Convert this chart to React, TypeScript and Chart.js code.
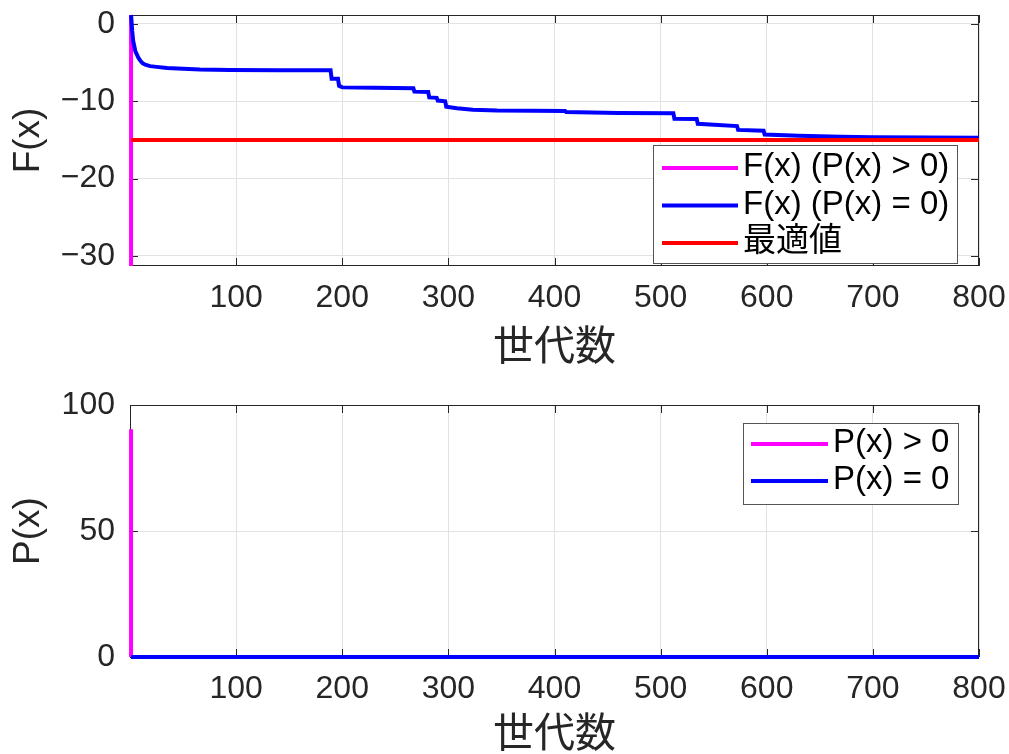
import React, { useEffect, useRef } from 'react';
import { Chart, registerables } from 'chart.js';

Chart.register(...registerables);

// ---------- data ----------
const blueGenerations = [
  1, 2, 3, 5, 8, 10, 12, 15, 19, 25, 35, 50, 66, 94, 140, 189, 190, 196, 197, 200, 230,
  267, 268, 281, 282, 289, 290, 297, 298, 308, 323, 346, 380, 410, 411, 460, 512, 513,
  534, 535, 572, 573, 597, 598, 630, 670, 700, 800,
];
const blueFitness = [
  1.16, -0.8, -2.2, -3.5, -4.4, -4.8, -5.1, -5.3, -5.45, -5.55, -5.7, -5.8, -5.9, -5.95, -5.98,
  -6.0, -7.1, -7.1, -8.0, -8.2, -8.25, -8.3, -8.75, -8.8, -9.5, -9.55, -9.9, -10.0, -10.7,
  -10.9, -11.1, -11.2, -11.22, -11.25, -11.4, -11.5, -11.55, -12.25, -12.3, -12.9, -13.2,
  -13.7, -13.8, -14.3, -14.45, -14.6, -14.65, -14.7,
];
const magentaGenerations = [1, 1];
const magentaFitness = [-31.3, 1.16];
const optimumGenerations = [1, 800];
const optimumFitness = [-15, -15];

const magentaPenaltyGenerations = [1, 1];
const magentaPenalty = [90.4, 0];
const bluePenaltyGenerations = [1, 800];
const bluePenalty = [0, 0];

const xTickValues = [100, 200, 300, 400, 500, 600, 700, 800];
const fTickValues = [-30, -20, -10, 0];
const pTickValues = [0, 50, 100];

const topLegendLabels = ['F(x) (P(x) > 0)', 'F(x) (P(x) = 0)', '最適値'];
const bottomLegendLabels = ['P(x) > 0', 'P(x) = 0'];
const xAxisTitle = '世代数';
const fAxisTitle = 'F(x)';
const pAxisTitle = 'P(x)';

// ---------- styling ----------
const FONT = "'Liberation Sans', 'Noto Sans CJK JP', sans-serif";
const TEXT = '#262626';
const MAGENTA = '#ff00ff';
const BLUE = '#0000ff';
const RED = '#ff0000';
const GRID = '#e2e2e2';

function pts(xs: number[], ys: number[]) {
  return xs.map((x, i) => ({ x, y: ys[i] }));
}

function fmt(v: number) {
  return v < 0 ? '\u2212' + Math.abs(v) : String(v);
}

const axesBoxPlugin = {
  id: 'axesBox',
  beforeDatasetsDraw(chart: any) {
    const { ctx, chartArea: a, scales } = chart;
    ctx.save();
    ctx.strokeStyle = TEXT;
    ctx.lineWidth = 1;
    ctx.strokeRect(a.left + 0.5, a.top + 0.5, a.right - a.left - 1, a.bottom - a.top - 1);
    const L = 8;
    ctx.beginPath();
    scales.x.ticks.forEach((t: any) => {
      const px = Math.round(scales.x.getPixelForValue(t.value)) + 0.5;
      ctx.moveTo(px, a.bottom);
      ctx.lineTo(px, a.bottom - L);
      ctx.moveTo(px, a.top);
      ctx.lineTo(px, a.top + L);
    });
    scales.y.ticks.forEach((t: any) => {
      const py = Math.round(scales.y.getPixelForValue(t.value)) + 0.5;
      ctx.moveTo(a.left, py);
      ctx.lineTo(a.left + L, py);
      ctx.moveTo(a.right, py);
      ctx.lineTo(a.right - L, py);
    });
    ctx.stroke();
    ctx.restore();
  },
};

type LegendCfg = {
  labels: string[];
  colors: string[];
  x: number; y: number; w: number; h: number;
  lineX0: number; lineX1: number; textX: number;
  rowY0: number; rowStep: number;
};

function makeLegendPlugin(cfg: LegendCfg) {
  return {
    id: 'boxLegend',
    afterDraw(chart: any) {
      const { ctx } = chart;
      ctx.save();
      ctx.fillStyle = '#ffffff';
      ctx.fillRect(cfg.x, cfg.y, cfg.w, cfg.h);
      ctx.strokeStyle = '#555555';
      ctx.lineWidth = 1;
      ctx.strokeRect(cfg.x + 0.5, cfg.y + 0.5, cfg.w - 1, cfg.h - 1);
      ctx.font = `33px ${FONT}`;
      ctx.textBaseline = 'middle';
      ctx.textAlign = 'left';
      cfg.labels.forEach((lab, i) => {
        const y = cfg.rowY0 + i * cfg.rowStep;
        ctx.strokeStyle = cfg.colors[i];
        ctx.lineWidth = 4;
        ctx.beginPath();
        ctx.moveTo(cfg.lineX0, y);
        ctx.lineTo(cfg.lineX1, y);
        ctx.stroke();
        ctx.fillStyle = '#000000';
        ctx.fillText(lab, cfg.textX, y - 1);
      });
      ctx.restore();
    },
  };
}

function lineDs(label: string, data: any[], color: string, order: number) {
  return {
    label,
    data,
    borderColor: color,
    backgroundColor: color,
    borderWidth: 4,
    pointRadius: 0,
    tension: 0,
    fill: false,
    borderJoinStyle: 'miter' as const,
    borderCapStyle: 'butt' as const,
    clip: 3,
    order,
  };
}

function xScale(height: number, titlePad: number) {
  return {
    type: 'linear' as const,
    min: 0,
    max: 800,
    afterBuildTicks: (s: any) => { s.ticks = xTickValues.map((v) => ({ value: v })); },
    afterFit: (s: any) => {
      s.height = height;
      s.paddingLeft = 0; s.paddingRight = 0; s.paddingTop = 0; s.paddingBottom = 0;
    },
    ticks: { font: { family: FONT, size: 32 }, color: TEXT, padding: 13, maxRotation: 0, autoSkip: false },
    grid: { color: GRID, drawTicks: false, lineWidth: 1 },
    border: { display: false },
    title: {
      display: true,
      text: xAxisTitle,
      font: { family: FONT, size: 41 },
      color: TEXT,
      padding: { top: 0, bottom: titlePad },
    },
  };
}

function yScale(min: number, max: number, tickVals: number[], title: string) {
  return {
    type: 'linear' as const,
    min,
    max,
    afterBuildTicks: (s: any) => { s.ticks = tickVals.map((v) => ({ value: v })); },
    afterFit: (s: any) => {
      s.width = 130;
      s.paddingLeft = 0; s.paddingRight = 0; s.paddingTop = 0; s.paddingBottom = 0;
    },
    ticks: { font: { family: FONT, size: 32 }, color: TEXT, padding: 15, callback: (v: any) => fmt(Number(v)) },
    grid: { color: GRID, drawTicks: false, lineWidth: 1 },
    border: { display: false },
    title: {
      display: true,
      text: title,
      font: { family: FONT, size: 37 },
      color: TEXT,
      padding: { top: 7, bottom: 0 },
    },
  };
}

const commonOptions = {
  responsive: false,
  animation: false as const,
  devicePixelRatio: 1,
  plugins: { legend: { display: false }, tooltip: { enabled: false } },
  events: [] as any[],
};

export default function App() {
  const topRef = useRef<HTMLCanvasElement>(null);
  const botRef = useRef<HTMLCanvasElement>(null);

  useEffect(() => {
    const top = new Chart(topRef.current!, {
      type: 'line',
      data: {
        datasets: [
          lineDs(topLegendLabels[0], pts(magentaGenerations, magentaFitness), MAGENTA, 3),
          lineDs(topLegendLabels[1], pts(blueGenerations, blueFitness), BLUE, 2),
          lineDs(topLegendLabels[2], pts(optimumGenerations, optimumFitness), RED, 1),
        ],
      },
      options: {
        ...commonOptions,
        layout: { padding: { left: 0, right: 30, top: 15, bottom: 0 } },
        scales: {
          x: xScale(111, 4),
          y: yScale(-31.3, 1.16, fTickValues, fAxisTitle),
        },
      } as any,
      plugins: [
        axesBoxPlugin,
        makeLegendPlugin({
          labels: topLegendLabels,
          colors: [MAGENTA, BLUE, RED],
          x: 653, y: 145, w: 305, h: 119,
          lineX0: 662, lineX1: 738, textX: 743,
          rowY0: 168, rowStep: 37.5,
        }),
      ],
    });

    const bot = new Chart(botRef.current!, {
      type: 'line',
      data: {
        datasets: [
          lineDs(bottomLegendLabels[0], pts(magentaPenaltyGenerations, magentaPenalty), MAGENTA, 2),
          lineDs(bottomLegendLabels[1], pts(bluePenaltyGenerations, bluePenalty), BLUE, 1),
        ],
      },
      options: {
        ...commonOptions,
        layout: { padding: { left: 0, right: 30, top: 28, bottom: 0 } },
        scales: {
          x: xScale(104, 1),
          y: yScale(0, 100, pTickValues, pAxisTitle),
        },
      } as any,
      plugins: [
        axesBoxPlugin,
        makeLegendPlugin({
          labels: bottomLegendLabels,
          colors: [MAGENTA, BLUE],
          x: 743, y: 46, w: 216, h: 82,
          lineX0: 751, lineX1: 828, textX: 833,
          rowY0: 67, rowStep: 37,
        }),
      ],
    });

    return () => {
      top.destroy();
      bot.destroy();
    };
  }, []);

  return (
    <div
      style={{
        position: 'fixed', left: 0, top: 0, width: 1009, height: 754,
        overflow: 'hidden', background: '#ffffff',
      }}
    >
      <canvas ref={topRef} width={1009} height={377}
        style={{ position: 'absolute', left: 0, top: 0, display: 'block' }} />
      <canvas ref={botRef} width={1009} height={384}
        style={{ position: 'absolute', left: 0, top: 377, display: 'block' }} />
    </div>
  );
}
